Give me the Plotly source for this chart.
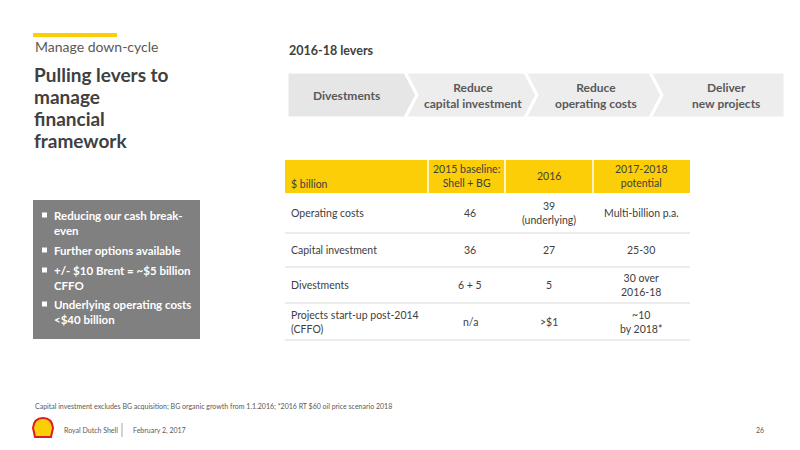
import plotly.graph_objects as go

levers = ["Divestments", "Reduce<br>capital investment", "Reduce<br>operating costs", "Deliver<br>new projects"]
columns = ["$ billion", "2015 baseline:<br>Shell + BG", "2016", "2017-2018<br>potential"]
row_labels = ["Operating costs", "Capital investment", "Divestments", "Projects start-up post-2014<br>(CFFO)"]
baseline_2015 = ["46", "36", "6 + 5", "n/a"]
values_2016 = ["39<br>(underlying)", "27", "5", ">$1"]
potential_1718 = ["Multi-billion p.a.", "25-30", "30 over<br>2016-18", "~10<br>by 2018*"]
bullets = ["Reducing our cash break-<br>even", "Further options available",
           "+/- $10 Brent = ~$5 billion<br>CFFO", "Underlying operating costs<br><$40 billion"]

F = "Lato"
DARK = "#404040"
YEL = "#FBCE07"
fig = go.Figure()
shapes, ann = [], []

def text(x, y, t, size, color=DARK, bold=False, xa="left", ya="middle", align="left"):
    if bold:
        t = "<b>" + t + "</b>"
    ann.append(dict(x=x, y=y, text=t, xref="x", yref="y", showarrow=False, xanchor=xa, yanchor=ya,
                    align=align, font=dict(family=F, size=size, color=color)))

# left title
shapes.append(dict(type="rect", x0=33, x1=117, y0=33, y1=37, fillcolor=YEL, line_width=0))
text(33, 46, "Manage down-cycle", 14, "#595959")
for i, w in enumerate(["Pulling levers to", "manage", "financial", "framework"]):
    text(32, 74 + i * 22, w, 19, DARK, bold=True)

# bullet box
shapes.append(dict(type="rect", x0=33, x1=200, y0=200, y1=339, fillcolor="#808080", line_width=0))
tops = [215, 250, 270, 304]
for top, b in zip(tops, bullets):
    shapes.append(dict(type="rect", x0=42, x1=47, y0=top - 2.5, y1=top + 2.5, fillcolor="white", line_width=0))
    text(52, top - 8, b, 11.5, "white", bold=True, ya="top")

# levers chevrons
text(287, 50, "2016-18 levers", 12.5, DARK, bold=True)
x0s = [287, 405, 525, 650]
x1s = [405, 525, 650, 785]
yt, yb, ym, tip = 72, 118, 95, 12
for i, (a, b) in enumerate(zip(x0s, x1s)):
    left_notch = "" if i == 0 else f" L {a+tip},{ym}"
    path = f"M {a},{yt} L {b},{yt} L {b+tip},{ym} L {b},{yb} L {a},{yb}{left_notch} Z" if i < 3 else \
           f"M {a},{yt} L {b},{yt} L {b},{yb} L {a},{yb}{left_notch} Z"
    fill = "#E6E6E6" if i == 0 else "#EDEDED"
    shapes.append(dict(type="path", path=path, fillcolor=fill, line=dict(color="white", width=3)))
    cx = (a + b) / 2 + (0 if i == 0 else 8)
    text(cx, ym, levers[i], 12, "#595959", bold=True, xa="center", align="center")

# table
cx = [285, 428, 505, 593, 690]
shapes.append(dict(type="rect", x0=285, x1=690, y0=160, y1=193, fillcolor=YEL, line_width=0))
for xs in cx[1:4]:
    shapes.append(dict(type="line", x0=xs, x1=xs, y0=160, y1=193, line=dict(color="white", width=1.5)))
text(289, 184, columns[0], 10.5, DARK)
for j in range(1, 4):
    text((cx[j] + cx[j + 1]) / 2, 176, columns[j], 10.5, DARK, xa="center", align="center")
lines_y = [233, 267, 303, 340]
rtops = [193] + lines_y[:-1]
for k, (t, bt) in enumerate(zip(rtops, lines_y)):
    shapes.append(dict(type="line", x0=285, x1=690, y0=bt, y1=bt, line=dict(color="#D9D9D9", width=1.2)))
    my = (t + bt) / 2
    text(289, my, row_labels[k], 10.5, DARK)
    text(470, my, baseline_2015[k], 10.5, DARK, xa="center", align="center")
    text(549, my, values_2016[k], 10.5, DARK, xa="center", align="center")
    text(641, my, potential_1718[k], 10.5, DARK, xa="center", align="center")

# footnote and footer
text(33, 406, "Capital investment excludes BG acquisition; BG organic growth from 1.1.2016; *2016 RT $60 oil price scenario 2018", 7, "#595959")
shapes.append(dict(type="path", path="M 35,437 L 33,428 Q 34,418 43,418 Q 52,418 53,428 L 51,437 Z",
                   fillcolor=YEL, line=dict(color="#DD1D21", width=2)))
text(62, 430, "Royal Dutch Shell", 7, "#595959")
shapes.append(dict(type="line", x0=122, x1=122, y0=423, y1=437, line=dict(color="#A6A6A6", width=1)))
text(131, 430, "February 2, 2017", 7, "#595959")
text(766, 430, "26", 7, "#595959", xa="right")

# the page body adds an 8px margin; shift the drawing area to compensate
fig.update_layout(width=800, height=450, margin=dict(l=0, r=0, t=0, b=0),
                  paper_bgcolor="white", plot_bgcolor="white", shapes=shapes, annotations=ann,
                  xaxis=dict(range=[8, 808], visible=False, fixedrange=True),
                  yaxis=dict(range=[458, 8], visible=False, fixedrange=True), showlegend=False)
fig.write_html("out.html")
